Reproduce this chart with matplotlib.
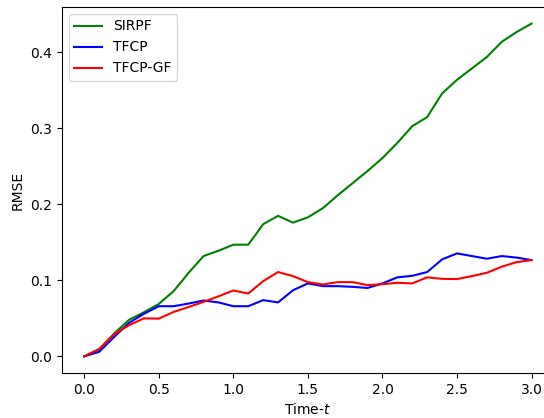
import numpy as np
import matplotlib.pyplot as plt

# time grid and RMSE curves
t = np.round(np.arange(0, 3.01, 0.1), 1)

rmse_sirpf = [0.0, 0.009, 0.030, 0.048, 0.058, 0.069, 0.086, 0.110, 0.132, 0.139,
              0.147, 0.147, 0.174, 0.185, 0.176, 0.183, 0.195, 0.212, 0.228, 0.244,
              0.261, 0.281, 0.303, 0.315, 0.346, 0.364, 0.379, 0.394, 0.414, 0.427,
              0.438]
rmse_tfcp = [0.0, 0.006, 0.0255, 0.044, 0.056, 0.066, 0.066, 0.0695, 0.0735, 0.071,
             0.066, 0.066, 0.074, 0.071, 0.087, 0.096, 0.0924, 0.0924, 0.0915, 0.090,
             0.096, 0.104, 0.106, 0.111, 0.1276, 0.1355, 0.132, 0.1285, 0.132, 0.130,
             0.1267]
rmse_tfcp_gf = [0.0, 0.0097, 0.029, 0.041, 0.050, 0.0497, 0.0585, 0.065, 0.0717, 0.079,
                0.0867, 0.0827, 0.099, 0.111, 0.1056, 0.0977, 0.0946, 0.0977, 0.0977, 0.0937,
                0.095, 0.0968, 0.096, 0.104, 0.102, 0.1017, 0.1056, 0.110, 0.118, 0.124,
                0.1267]

fig = plt.figure(figsize=(5.44, 4.18), dpi=100)
# axes run a little past the right edge of the canvas
ax = fig.add_axes([0.1138, 0.1077, 0.9044, 0.8756])

ax.plot(t, rmse_sirpf, color="green", label="SIRPF")
ax.plot(t, rmse_tfcp, color="blue", label="TFCP")
ax.plot(t, rmse_tfcp_gf, color="red", label="TFCP-GF")

ax.set_xlabel("Time-$t$")
ax.set_ylabel("RMSE")
ax.legend(loc="upper left")

fig.savefig("out.png", dpi=100)
